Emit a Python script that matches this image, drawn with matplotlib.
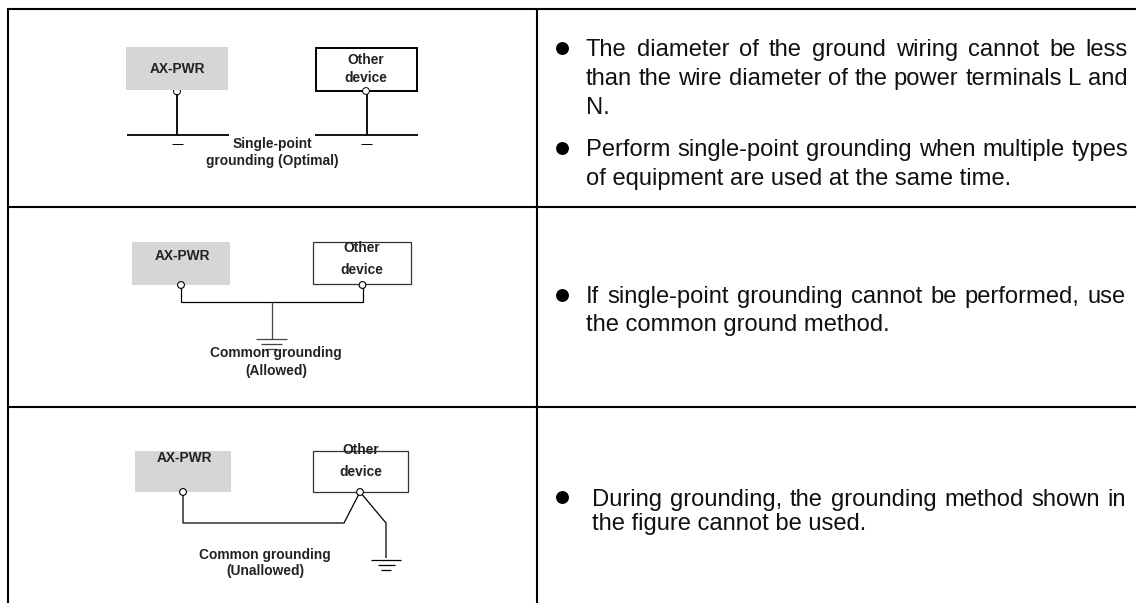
import matplotlib
matplotlib.use('Agg')
import matplotlib.pyplot as plt
from matplotlib.patches import Rectangle, Circle

W, H = 1136, 603

# table text, one block per row
right_text = [
    ["The diameter of the ground wiring cannot be less",
     "than the wire diameter of the power terminals L and",
     "N."],
    ["Perform single-point grounding when multiple types",
     "of equipment are used at the same time."],
    ["If single-point grounding cannot be performed, use",
     "the common ground method."],
    ["During grounding, the grounding method shown in",
     "the figure cannot be used."],
]
device_label = 'AX-PWR'
other_label = ['Other', 'device']
captions = [['Single-point', 'grounding (Optimal)'],
            ['Common grounding', '(Allowed)'],
            ['Common grounding', '(Unallowed)']]

plt.rcParams['font.family'] = ['Liberation Sans', 'DejaVu Sans']

fig = plt.figure(figsize=(W / 100, H / 100), dpi=100)
ax = fig.add_axes([0, 0, 1, 1])
ax.set_xlim(0, W)
ax.set_ylim(H, 0)
ax.axis('off')


def line(xs, ys, lw=1.0, c='black'):
    ax.plot(xs, ys, color=c, lw=lw, solid_capstyle='butt', solid_joinstyle='miter')


def small(x, y, s):
    ax.text(x, y + 1, s, fontsize=9.9, fontweight='bold', ha='center', va='center',
            color='#222222', zorder=5)


def node(x, y, lw=0.8, z=3):
    ax.add_patch(Circle((x, y), 3.4, fc='white', ec='black', lw=lw, zorder=z))


def justified(x0, x1, y, s, size):
    # place word by word so the line ends at x1, like the justified original
    words = s.split(' ')
    r = fig.canvas.get_renderer()
    widths = []
    for w in words:
        t = ax.text(0, 0, w, fontsize=size)
        widths.append(t.get_window_extent(r).width)
        t.remove()
    gap = (x1 - x0 - sum(widths)) / (len(words) - 1)
    x = x0
    for w, wd in zip(words, widths):
        ax.text(x, y, w, fontsize=size, ha='left', va='baseline', color='#111111')
        x += wd + gap


# table frame
line([8, 1136], [9, 9], 1.5)
line([8, 1136], [206.5, 206.5], 1.5)
line([8, 1136], [407, 407], 1.5)
line([8, 8], [8, 603], 1.5)
line([537, 537], [9, 603], 1.5)

# first diagram
node(177, 91.5, 0.7, 1)
ax.add_patch(Rectangle((126, 47), 102, 43, fc='#d6d6d6', ec='none', zorder=2))
ax.add_patch(Rectangle((316, 48), 101, 42.5, fc='white', ec='black', lw=1.4, zorder=2))
small(177, 68, device_label)
small(366, 59.5, other_label[0])
small(366, 77.5, other_label[1])
node(366, 91, 0.7)
line([177, 177], [94, 135], 1.3)
line([366.5, 366.5], [94, 135], 1.3)
line([127, 229], [135, 135], 1.3)
line([315, 418], [135, 135], 1.3)
line([172, 183], [144, 144], 0.7)
line([361, 372], [144, 144], 0.7)
small(272, 143, captions[0][0])
small(272, 159.5, captions[0][1])

# second diagram
ax.add_patch(Rectangle((132, 242), 98, 43, fc='#d6d6d6', ec='none'))
ax.add_patch(Rectangle((313, 242), 98, 42, fc='white', ec='#333333', lw=0.9))
small(182, 255, device_label)
small(362, 246.5, other_label[0])
small(362, 269.5, other_label[1])
line([181, 181, 362.5, 362.5], [285, 301.5, 301.5, 285], 0.9)
node(181, 285)
node(362.5, 285)
line([271.5, 271.5], [301.5, 338.5], 0.9, '#444444')
line([256, 287], [338.5, 338.5], 0.9, '#444444')
line([261, 282], [344, 344], 0.9, '#444444')
line([266, 277], [349, 349], 0.9, '#444444')
small(276, 352.5, captions[1][0])
small(276, 369.5, captions[1][1])

# third diagram
ax.add_patch(Rectangle((135, 451), 96, 41, fc='#d6d6d6', ec='none'))
ax.add_patch(Rectangle((312.5, 450.5), 95, 41, fc='white', ec='#333333', lw=0.9))
small(184, 457, device_label)
small(361, 449, other_label[0])
small(361, 471.5, other_label[1])
line([183, 183, 344, 360], [492, 523, 523, 492], 0.9)
line([360, 386, 386], [492, 523, 558], 0.9)
line([371, 401], [559.5, 559.5], 0.9)
line([378, 395], [564.5, 564.5], 0.9)
line([381, 391], [569.5, 569.5], 0.9)
node(183, 492)
node(360, 492)
small(265, 554, captions[2][0])
small(265, 570, captions[2][1])

# bullets and text on the right, y values are baselines
bullet_x = 562
text_size = 17.1
bullet_y = [48, 148, 295, 497]
line_y = [[56, 85, 113.5], [156, 185], [303, 331], [506, 530]]
line_x0 = [586, 586, 586, 592]
line_end = [[1128, 1128, None], [1128, None], [1126, None], [1126, None]]
for k, block in enumerate(right_text):
    ax.plot([bullet_x], [bullet_y[k]], 'o', color='black', ms=9.3, mew=0)
    for i, s in enumerate(block):
        if line_end[k][i]:
            justified(line_x0[k], line_end[k][i], line_y[k][i], s, text_size)
        else:
            ax.text(line_x0[k], line_y[k][i], s, fontsize=text_size, ha='left',
                    va='baseline', color='#111111')

fig.savefig('out.png', dpi=100)
